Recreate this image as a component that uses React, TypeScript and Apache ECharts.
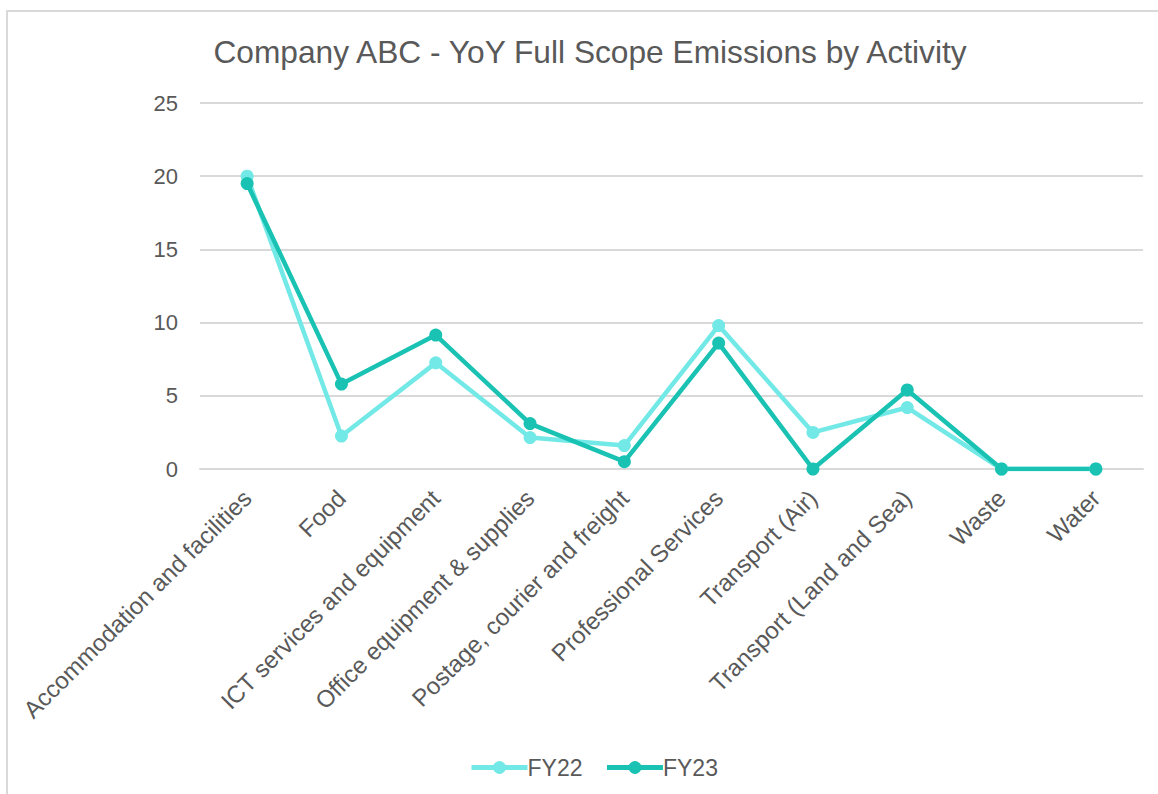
import React, { useEffect, useRef } from "react";
import * as echarts from "echarts";

const categories = [
  "Accommodation and facilities",
  "Food",
  "ICT services and equipment",
  "Office equipment & supplies",
  "Postage, courier and freight",
  "Professional Services",
  "Transport (Air)",
  "Transport (Land and Sea)",
  "Waste",
  "Water",
];
const fy22 = [20.0, 2.25, 7.25, 2.15, 1.6, 9.8, 2.5, 4.2, 0, 0];
const fy23 = [19.5, 5.8, 9.15, 3.1, 0.5, 8.6, 0, 5.4, 0, 0];
const seriesNames = ["FY22", "FY23"];
const title = "Company ABC - YoY Full Scope Emissions by Activity";

const FONT = "'Liberation Sans', Arial, Helvetica, sans-serif";
const C22 = "#72e9e6";
const C23 = "#19c2b2";

export default function App() {
  const ref = useRef<HTMLDivElement>(null);
  useEffect(() => {
    if (!ref.current) return;
    const chart = echarts.init(ref.current, undefined, { renderer: "svg" });
    const mk = (name: string, data: number[], color: string) => ({
      name,
      type: "line",
      data,
      symbol: "circle",
      symbolSize: 13,
      lineStyle: { width: 4.5, color },
      itemStyle: { color },
      emphasis: { disabled: true },
    });
    chart.setOption({
      animation: false,
      backgroundColor: "#ffffff",
      textStyle: { fontFamily: FONT },
      title: {
        text: title,
        left: 585,
        textAlign: "center",
        top: 31,
        textStyle: { fontFamily: FONT, fontSize: 31.7, fontWeight: "normal", color: "#595959" },
      },
      graphic: [
        {
          type: "rect",
          shape: { x: 7, y: 11, width: 1300, height: 1000 },
          style: { fill: "none", stroke: "#d9d9d9", lineWidth: 2 },
          silent: true,
        },
      ],
      legend: {
        data: seriesNames,
        bottom: 15,
        left: 469,
        padding: 0,
        itemWidth: 56,
        itemHeight: 16,
        itemGap: 22,
        lineStyle: { width: 5 },
        textStyle: { fontFamily: FONT, fontSize: 23, color: "#595959", padding: [0, 0, 0, -5] },
      },
      grid: { left: 200, right: 15, top: 103, bottom: 325, containLabel: false },
      xAxis: {
        type: "category",
        data: categories,
        boundaryGap: true,
        axisLine: { show: true, lineStyle: { color: "#d9d9d9", width: 2 } },
        axisTick: { show: false },
        axisLabel: {
          rotate: 45,
          interval: 0,
          margin: 25,
          fontFamily: FONT,
          fontSize: 24,
          color: "#595959",
        },
      },
      yAxis: {
        type: "value",
        min: 0,
        max: 25,
        interval: 5,
        axisLine: { show: false },
        axisTick: { show: false },
        splitLine: { lineStyle: { color: "#d9d9d9", width: 2 } },
        axisLabel: { margin: 22, fontFamily: FONT, fontSize: 22, color: "#595959" },
      },
      series: [mk(seriesNames[0], fy22, C22), mk(seriesNames[1], fy23, C23)],
    });
    return () => chart.dispose();
  }, []);
  return (
    <div
      ref={ref}
      style={{ position: "absolute", left: 0, top: 0, width: 1158, height: 794, background: "#fff" }}
    />
  );
}
